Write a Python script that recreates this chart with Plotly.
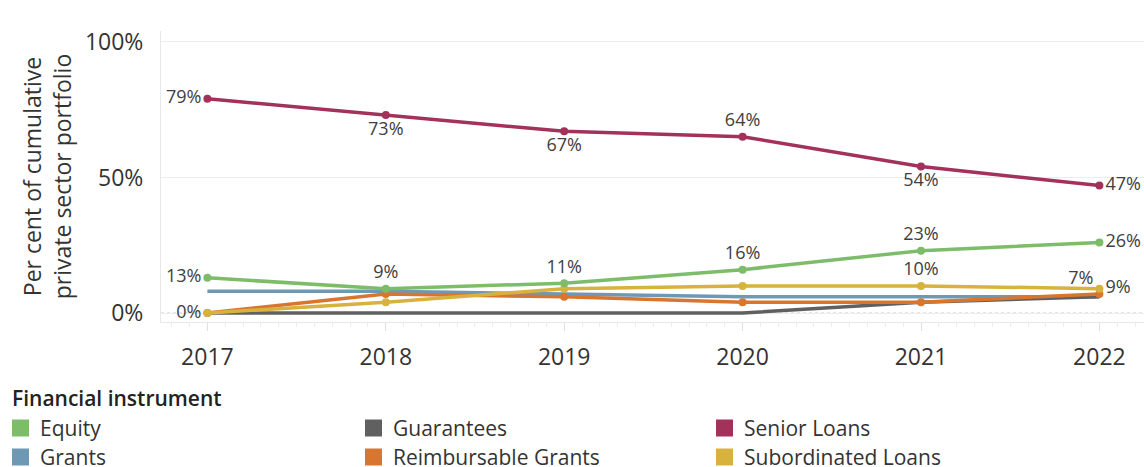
import plotly.graph_objects as go

years = [2017, 2018, 2019, 2020, 2021, 2022]

equity = [13, 9, 11, 16, 23, 26]
guarantees = [0, 0, 0, 0, 4, 6]
senior_loans = [79, 73, 67, 65, 54, 47]
grants = [8, 8, 7, 6, 6, 6]
reimbursable_grants = [0, 7, 6, 4, 4, 7]
subordinated_loans = [0, 4, 9, 10, 10, 9]

equity_labels = ["13%", "9%", "11%", "16%", "23%", "26%"]
equity_pos = ["middle left", "top center", "top center", "top center", "top center", "middle right"]
senior_labels = ["79%", "73%", "67%", "64%", "54%", "47%"]
senior_pos = ["middle left", "bottom center", "bottom center", "top center", "bottom center", "middle right"]
sub_labels = ["0%", "", "", "", "10%", "9%"]
sub_pos = ["middle left", "top center", "top center", "top center", "top center", "middle right"]
reimb_labels = ["", "", "", "", "", "7%"]
reimb_pos = ["top center"] * 5 + ["top left"]

legend_title = "Financial instrument"
legend_rows = [["Equity", "Guarantees", "Senior Loans"],
               ["Grants", "Reimbursable Grants", "Subordinated Loans"]]

colors = {
    "Equity": "#7dbd6a",
    "Guarantees": "#606060",
    "Senior Loans": "#a2325a",
    "Grants": "#6e99b5",
    "Reimbursable Grants": "#d8762f",
    "Subordinated Loans": "#d7b33e",
}

series = [
    ("Grants", grants, None, None),
    ("Guarantees", guarantees, None, None),
    ("Reimbursable Grants", reimbursable_grants, reimb_labels, reimb_pos),
    ("Subordinated Loans", subordinated_loans, sub_labels, sub_pos),
    ("Equity", equity, equity_labels, equity_pos),
    ("Senior Loans", senior_loans, senior_labels, senior_pos),
]

FONT = "Open Sans"
W, H = 1144, 467
ML, MT, MB, MR = 161, 31, 145, 0
PW, PH = W - ML - MR, H - MT - MB


def px_x(px):
    return (px - ML) / PW


def px_y(py):
    return (H - MB - py) / PH


fig = go.Figure()

# zero reference line (dotted)
fig.add_shape(type="line", xref="paper", yref="y", x0=0, x1=1, y0=0, y1=0,
              line=dict(color="#c8c8c8", width=1, dash="dot"), layer="below")

for name, vals, labels, pos in series:
    fig.add_trace(go.Scatter(
        x=years, y=vals, name=name, showlegend=False,
        mode="lines+markers+text" if labels else "lines",
        line=dict(color=colors[name], width=3.5),
        marker=dict(size=8, color=colors[name]),
        text=labels, textposition=pos,
        textfont=dict(family=FONT, size=18, color="#404040"),
        cliponaxis=False, hoverinfo="skip",
    ))

# legend drawn as swatches + labels below the plot
fig.add_annotation(xref="paper", yref="paper", x=px_x(10), y=px_y(398),
                   xanchor="left", yanchor="middle", showarrow=False,
                   text=legend_title,
                   font=dict(family=FONT, size=21, color="#222222", weight=600))
col_x = [12, 365, 716]
row_y = [428, 457]
for r, row in enumerate(legend_rows):
    for c, name in enumerate(row):
        x0 = col_x[c]
        yc = row_y[r]
        fig.add_shape(type="rect", xref="paper", yref="paper",
                      x0=px_x(x0), x1=px_x(x0 + 17),
                      y0=px_y(yc + 8.5), y1=px_y(yc - 8.5),
                      fillcolor=colors[name], line=dict(width=0))
        fig.add_annotation(xref="paper", yref="paper", x=px_x(x0 + 26), y=px_y(yc),
                           xanchor="left", yanchor="middle", showarrow=False,
                           text=name,
                           font=dict(family=FONT, size=21, color="#333333"))

fig.update_layout(
    width=W, height=H,
    margin=dict(l=ML, r=MR, t=MT, b=MB),
    showlegend=False,
    paper_bgcolor="white", plot_bgcolor="white",
    font=dict(family=FONT, color="#333333"),
    xaxis=dict(
        range=[2016.74, 2022.25],
        tickvals=years, ticktext=[str(y) for y in years],
        tickfont=dict(family=FONT, size=23, color="#333333"),
        showgrid=False, zeroline=False,
        showline=True, linecolor="#e8e8e8", linewidth=1,
        ticks="outside", ticklen=8, tickcolor="#e0e0e0",
        minor=dict(ticks="outside", ticklen=4, tickcolor="#ececec", dtick=0.1),
        ticklabelstandoff=6,
    ),
    yaxis=dict(
        range=[-3.3, 104],
        tickvals=[0, 50, 100], ticktext=["0%", "50%", "100%"],
        tickfont=dict(family=FONT, size=23, color="#333333"),
        showgrid=True, gridcolor="#ececec", gridwidth=1,
        zeroline=False,
        showline=True, linecolor="#e8e8e8", linewidth=1,
        ticks="", ticklabelstandoff=12,
        title=dict(text="Per cent of cumulative<br>private sector portfolio",
                   font=dict(family=FONT, size=23, color="#333333"), standoff=6),
    ),
)

fig.write_html("out.html", config={"displayModeBar": False},
               post_script="document.body.style.margin='0';document.body.style.overflow='hidden';")
